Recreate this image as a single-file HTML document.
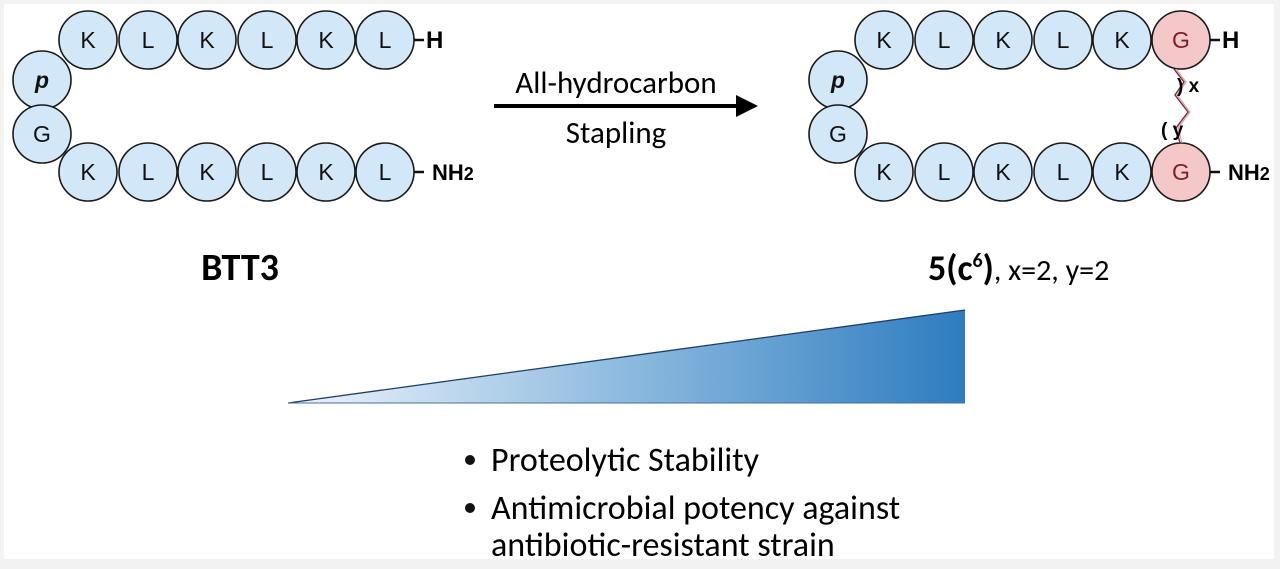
<!DOCTYPE html>
<html><head><meta charset="utf-8"><style>
html,body{margin:0;padding:0;background:#f2f2f2;}
svg{display:block;}
text{font-family:"Liberation Sans",Arial,sans-serif;}
.c{fill:#d2e8f8;stroke:#1a1a1a;stroke-width:1.6;}
.r{fill:#f4c8c8;stroke:#1a1a1a;stroke-width:1.6;}
.cal{font-family:"Carlito","Liberation Sans",sans-serif;}
</style></head><body>
<svg width="1280" height="569" viewBox="0 0 1280 569" xmlns="http://www.w3.org/2000/svg">
<defs>
<linearGradient id="g" x1="288" y1="0" x2="965" y2="0" gradientUnits="userSpaceOnUse">
<stop offset="0" stop-color="#eef4fb"/><stop offset="0.5" stop-color="#8dbadf"/><stop offset="1" stop-color="#2e7cc0"/>
</linearGradient>
</defs>
<rect x="4" y="4" width="1270" height="555" fill="#ffffff"/>
<g>
<circle class="c" cx="42" cy="80" r="29"/>
<circle class="c" cx="42" cy="134" r="29"/>
<circle class="c" cx="88" cy="40" r="29"/>
<circle class="c" cx="148" cy="40" r="29"/>
<circle class="c" cx="207" cy="40" r="29"/>
<circle class="c" cx="267" cy="40" r="29"/>
<circle class="c" cx="326" cy="40" r="29"/>
<circle class="c" cx="385" cy="40" r="29"/>
<circle class="c" cx="88" cy="172" r="29"/>
<circle class="c" cx="148" cy="172" r="29"/>
<circle class="c" cx="207" cy="172" r="29"/>
<circle class="c" cx="267" cy="172" r="29"/>
<circle class="c" cx="326" cy="172" r="29"/>
<circle class="c" cx="385" cy="172" r="29"/>
<circle class="c" cx="838" cy="80" r="29"/>
<circle class="c" cx="838" cy="134" r="29"/>
<circle class="c" cx="884" cy="40" r="29"/>
<circle class="c" cx="944" cy="40" r="29"/>
<circle class="c" cx="1003" cy="40" r="29"/>
<circle class="c" cx="1063" cy="40" r="29"/>
<circle class="c" cx="1122" cy="40" r="29"/>
<circle class="r" cx="1181" cy="40" r="29"/>
<circle class="c" cx="884" cy="172" r="29"/>
<circle class="c" cx="944" cy="172" r="29"/>
<circle class="c" cx="1003" cy="172" r="29"/>
<circle class="c" cx="1063" cy="172" r="29"/>
<circle class="c" cx="1122" cy="172" r="29"/>
<circle class="r" cx="1181" cy="172" r="29"/>
</g>
<g style="font-size:23px" text-anchor="middle" fill="#111">
<text x="42" y="88" font-style="italic" font-weight="bold">p</text>
<text x="42" y="142">G</text>
<text x="88" y="48">K</text><text x="148" y="48">L</text><text x="207" y="48">K</text>
<text x="267" y="48">L</text><text x="326" y="48">K</text><text x="385" y="48">L</text>
<text x="88" y="180">K</text><text x="148" y="180">L</text><text x="207" y="180">K</text>
<text x="267" y="180">L</text><text x="326" y="180">K</text><text x="385" y="180">L</text>
<text x="838" y="88" font-style="italic" font-weight="bold">p</text>
<text x="838" y="142">G</text>
<text x="884" y="48">K</text><text x="944" y="48">L</text><text x="1003" y="48">K</text>
<text x="1063" y="48">L</text><text x="1122" y="48">K</text><text x="1181" y="48" fill="#7a1f2b">G</text>
<text x="884" y="180">K</text><text x="944" y="180">L</text><text x="1003" y="180">K</text>
<text x="1063" y="180">L</text><text x="1122" y="180">K</text><text x="1181" y="180" fill="#7a1f2b">G</text>
</g>
<line x1="414" y1="40" x2="424" y2="40" stroke="#111" stroke-width="2.5"/>
<text x="426" y="48" font-size="24" font-weight="bold">H</text>
<line x1="414" y1="172" x2="424" y2="172" stroke="#111" stroke-width="2.5"/>
<text x="432" y="180" font-size="22" font-weight="bold">NH<tspan font-size="18">2</tspan></text>
<line x1="1210" y1="40" x2="1220" y2="40" stroke="#111" stroke-width="2.5"/>
<text x="1222" y="48" font-size="24" font-weight="bold">H</text>
<line x1="1210" y1="172" x2="1220" y2="172" stroke="#111" stroke-width="2.5"/>
<text x="1228" y="180" font-size="22" font-weight="bold">NH<tspan font-size="18">2</tspan></text>
<polyline points="1174,69 1184,82 1175,95 1188,112 1176,128 1180,143" fill="none" stroke="#7a2a3a" stroke-width="1.4"/>
<polyline points="1176,69 1186,82 1177,95 1190,112 1178,128 1182,143" fill="none" stroke="#d8a0a8" stroke-width="1.2"/>
<text x="1177" y="92" font-size="19" font-weight="bold">) x</text>
<text x="1161" y="136" font-size="19" font-weight="bold">( y</text>
<text x="616" y="93" font-size="31" text-anchor="middle" class="cal">All-hydrocarbon</text>
<line x1="494" y1="106" x2="738" y2="106" stroke="#000" stroke-width="4"/>
<polygon points="736,95 758,106 736,117" fill="#000"/>
<text x="616" y="143" font-size="31" text-anchor="middle" class="cal">Stapling</text>
<text x="240" y="280" font-size="38" font-weight="bold" text-anchor="middle" class="cal">BTT3</text>
<text x="928" y="280" font-size="36" class="cal"><tspan font-weight="bold">5(c<tspan font-size="20" dy="-13">6</tspan><tspan dy="13">)</tspan></tspan><tspan font-size="30">, x=2, y=2</tspan></text>
<polygon points="288,403 965,310 965,403" fill="url(#g)"/>
<line x1="288" y1="403" x2="965" y2="310" stroke="#1f3f66" stroke-width="1.3"/>
<line x1="288" y1="403" x2="965" y2="403" stroke="#4a6e9a" stroke-width="1"/>
<circle cx="470" cy="460" r="5" fill="#111"/>
<text x="491" y="471" font-size="34" class="cal">Proteolytic Stability</text>
<circle cx="470" cy="508" r="5" fill="#111"/>
<text x="491" y="519" font-size="34" class="cal">Antimicrobial potency against</text>
<text x="491" y="556" font-size="34" class="cal">antibiotic-resistant strain</text>
</svg>
</body></html>
